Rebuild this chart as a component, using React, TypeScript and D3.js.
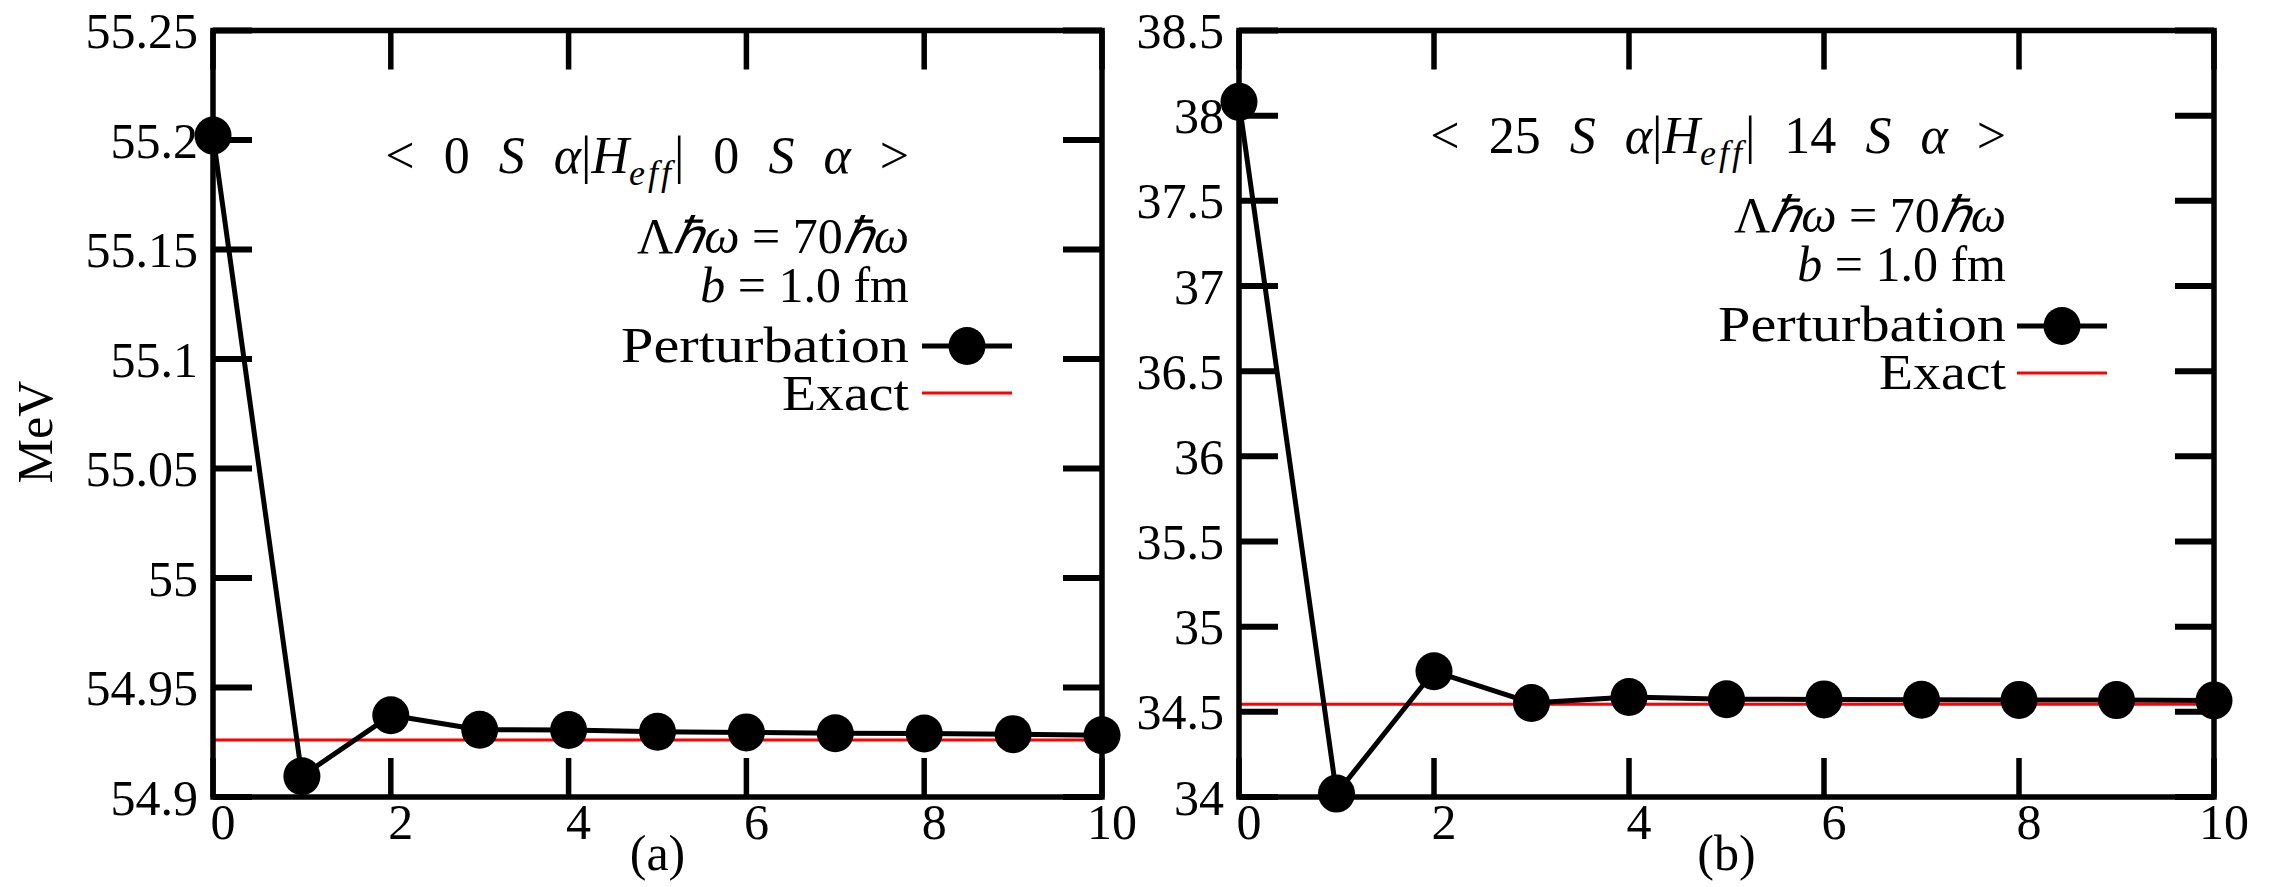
import React from "react";
import * as d3 from "d3";

const width = 2271;
const height = 887;

// iteration order on the x axis
const orders = [0, 1, 2, 3, 4, 5, 6, 7, 8, 9, 10];
const xTicks = [0, 2, 4, 6, 8, 10];

// panel (a): <0 S a|Heff|0 S a>
const pertA = [55.202, 54.9095, 54.9373, 54.9307, 54.9306, 54.9298, 54.9295, 54.9291, 54.929, 54.9287, 54.9282];
const exactA = 54.926;
const yTicksA = [54.9, 54.95, 55, 55.05, 55.1, 55.15, 55.2, 55.25];
const yLabelsA = ["54.9", "54.95", "55", "55.05", "55.1", "55.15", "55.2", "55.25"];

// panel (b): <25 S a|Heff|14 S a>
const pertB = [38.081, 34.02, 34.738, 34.552, 34.587, 34.574, 34.573, 34.571, 34.57, 34.569, 34.567];
const exactB = 34.545;
const yTicksB = [34, 34.5, 35, 35.5, 36, 36.5, 37, 37.5, 38, 38.5];
const yLabelsB = ["34", "34.5", "35", "35.5", "36", "36.5", "37", "37.5", "38", "38.5"];

const legendNames = ["Perturbation", "Exact"];

const fs = 50;
const serifStyle = { fontFamily: '"Liberation Serif"' };

const panels = [
  {
    key: "a",
    caption: "(a)",
    left: 213, right: 1102, top: 30.5, bottom: 797,
    yDomain: [54.9, 55.25],
    yTicks: yTicksA, yLabels: yLabelsA,
    pert: pertA, exact: exactA,
    n1: "0", n2: "0",
    textRight: 909,
    formulaY: 173, lambdaY: 253, bY: 302, pertY: 362, exactY: 410,
    legX0: 922, legX1: 1012, legMarker: 967, legPertLineY: 346, legExactLineY: 393,
  },
  {
    key: "b",
    caption: "(b)",
    left: 1239, right: 2214, top: 30.5, bottom: 797,
    yDomain: [34, 38.5],
    yTicks: yTicksB, yLabels: yLabelsB,
    pert: pertB, exact: exactB,
    n1: "25", n2: "14",
    textRight: 2006,
    formulaY: 153, lambdaY: 232, bY: 281, pertY: 341, exactY: 389,
    legX0: 2017, legX1: 2107, legMarker: 2062, legPertLineY: 326, legExactLineY: 373,
  },
];

const tickLen = 39;

function Panel({ p }: { p: any }) {
  const x = d3.scaleLinear().domain([0, 10]).range([p.left, p.right]);
  const y = d3.scaleLinear().domain(p.yDomain).range([p.bottom, p.top]);
  const line = d3
    .line<number>()
    .x((_, i) => x(orders[i]))
    .y(d => y(d));
  const it = { fontStyle: "italic" } as const;

  return (
    <g>
      {/* exact value */}
      <line x1={x(0)} x2={x(10)} y1={y(p.exact)} y2={y(p.exact)} stroke="#ff0000" strokeWidth={3} />
      {/* perturbation series */}
      <path d={line(p.pert) || ""} fill="none" stroke="#000" strokeWidth={5} strokeLinejoin="round" />
      {p.pert.map((v: number, i: number) => (
        <ellipse key={i} cx={x(orders[i])} cy={y(v)} rx={18.5} ry={19} fill="#000" />
      ))}

      {/* frame */}
      <rect x={p.left} y={p.top} width={p.right - p.left} height={p.bottom - p.top} fill="none" stroke="#000" strokeWidth={5.5} />

      {/* x ticks, inward on both sides */}
      {xTicks.map(t => (
        <g key={"x" + t}>
          <line x1={x(t)} x2={x(t)} y1={p.bottom} y2={p.bottom - tickLen} stroke="#000" strokeWidth={5.5} />
          <line x1={x(t)} x2={x(t)} y1={p.top} y2={p.top + tickLen} stroke="#000" strokeWidth={5.5} />
          <text x={x(t) + 10} y={839} textAnchor="middle" style={serifStyle} fontSize={fs}>{t}</text>
        </g>
      ))}

      {/* y ticks */}
      {p.yTicks.map((t: number, i: number) => (
        <g key={"y" + t}>
          <line x1={p.left} x2={p.left + tickLen} y1={y(t)} y2={y(t)} stroke="#000" strokeWidth={6} />
          <line x1={p.right} x2={p.right - tickLen} y1={y(t)} y2={y(t)} stroke="#000" strokeWidth={6} />
          <text x={p.left - 15} y={y(t)} dy="0.35em" textAnchor="end" style={serifStyle} fontSize={fs}>{p.yLabels[i]}</text>
        </g>
      ))}

      <text x={(p.left + p.right) / 2} y={870} textAnchor="middle" style={serifStyle} fontSize={fs}>{p.caption}</text>

      {/* annotations */}
      <g style={serifStyle} fontSize={fs} textAnchor="end">
        <text x={p.textRight} y={p.formulaY} style={{ ...serifStyle, wordSpacing: "16px" }} fontSize={52}>
          {"< " + p.n1 + " "}
          <tspan style={it}>S</tspan>{" "}
          <tspan style={it}>α</tspan>|<tspan style={it}>H</tspan>
          <tspan style={it} fontSize={36} dy={12} letterSpacing={3}>eff</tspan>
          <tspan dy={-12}>{"| " + p.n2 + " "}</tspan>
          <tspan style={it}>S</tspan>{" "}
          <tspan style={it}>α</tspan>{" >"}
        </text>
        <text x={p.textRight} y={p.lambdaY} style={serifStyle}>
          Λ<tspan style={it}>ℏω</tspan> = 70<tspan style={it}>ℏω</tspan>
        </text>
        <text x={p.textRight} y={p.bY} style={serifStyle}>
          <tspan style={it}>b</tspan> = 1.0 fm
        </text>
        <text x={p.textRight} y={p.pertY} style={serifStyle} textLength={288} lengthAdjust="spacingAndGlyphs">{legendNames[0]}</text>
        <text x={p.textRight} y={p.exactY} style={serifStyle} textLength={127} lengthAdjust="spacingAndGlyphs">{legendNames[1]}</text>
      </g>
      <line x1={p.legX0} x2={p.legX1} y1={p.legPertLineY} y2={p.legPertLineY} stroke="#000" strokeWidth={5} />
      <ellipse cx={p.legMarker} cy={p.legPertLineY} rx={18.5} ry={19} fill="#000" />
      <line x1={p.legX0} x2={p.legX1} y1={p.legExactLineY} y2={p.legExactLineY} stroke="#ff0000" strokeWidth={3} />
    </g>
  );
}

export default function App() {
  return (
    <svg
      width={width}
      height={height}
      style={{ position: "absolute", left: 0, top: 0, background: "#fff", fontFamily: '"Liberation Serif"' }}
    >
      <rect width={width} height={height} fill="#fff" />
      <text transform="translate(52,432) rotate(-90)" textAnchor="middle" style={serifStyle} fontSize={fs}>MeV</text>
      {panels.map(p => (
        <Panel key={p.key} p={p} />
      ))}
    </svg>
  );
}
